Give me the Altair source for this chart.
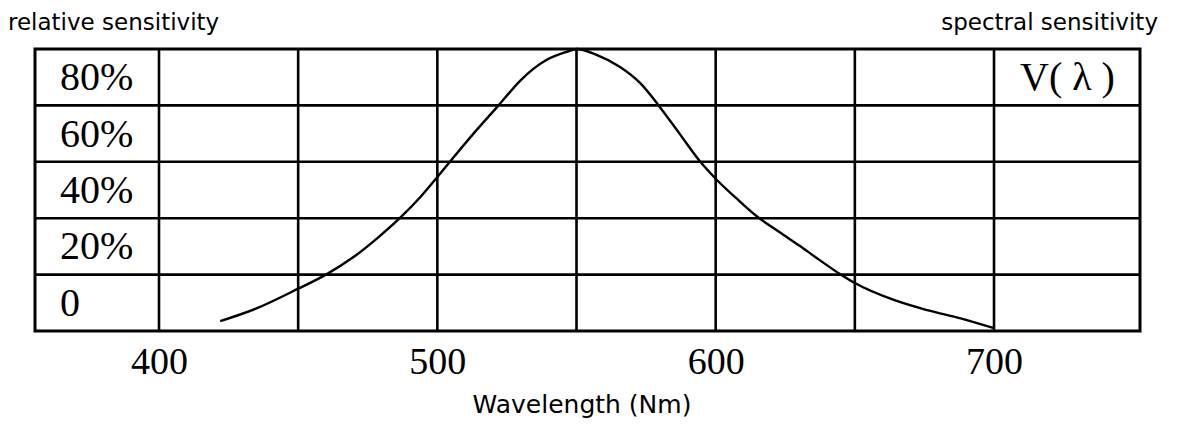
import altair as alt
import pandas as pd

# Curve (wavelength nm, relative sensitivity %)
wavelength = [422, 435, 450, 460, 470, 479, 486.5, 494, 500, 506, 513, 522,
              530, 539, 546.5, 550, 557, 565.5, 573, 579.5, 587, 594.5, 600,
              607.5, 615, 623, 630, 637, 644.5, 650, 664, 676, 688, 700]
sensitivity = [3.5, 8, 15, 20, 26.3, 33.4, 40, 47.6, 54.6, 61.8, 70, 80,
               89, 96, 99, 100, 98, 93.7, 87.8, 80, 70, 60, 54,
               47, 40.5, 35, 30.3, 25.4, 20.3, 17, 11, 7.4, 4.5, 1]

x_grid = [400, 450, 500, 550, 600, 650, 700]
y_grid = [20, 40, 60, 80]
x_ticks = [400, 500, 600, 700]
row_labels = ["0", "20%", "40%", "60%", "80%"]
row_mids = [10, 30, 50, 70, 90]

curve = pd.DataFrame({"wl": wavelength, "v": sensitivity})
vgrid = pd.DataFrame({"wl": x_grid})
hgrid = pd.DataFrame({"v": y_grid})
rows = pd.DataFrame({"label": row_labels, "v": row_mids})

xs = alt.Scale(domain=[355.45, 752.45], nice=False, zero=False)
ys = alt.Scale(domain=[0, 100], nice=False, zero=False)

SERIF = "Liberation Serif"
SANS = "DejaVu Sans"

xaxis = alt.Axis(values=x_ticks, ticks=False, domain=False, grid=False, title=None,
                 labelFont=SERIF, labelFontSize=38, labelColor="black", labelPadding=12)

vrules = alt.Chart(vgrid).mark_rule(color="black", strokeWidth=2.6).encode(
    x=alt.X("wl:Q", scale=xs, axis=xaxis),
    y=alt.value(0),
    y2=alt.value(282),
)

hrules = alt.Chart(hgrid).mark_rule(color="black", strokeWidth=2.6).encode(
    y=alt.Y("v:Q", scale=ys, axis=None),
    x=alt.value(0),
    x2=alt.value(1105),
)

line = alt.Chart(curve).mark_line(color="black", strokeWidth=2.4,
                                  interpolate="monotone").encode(
    x=alt.X("wl:Q", scale=xs, axis=xaxis),
    y=alt.Y("v:Q", scale=ys, axis=None),
)

labels = alt.Chart(rows).mark_text(font=SERIF, fontSize=40, align="left",
                                   baseline="middle", color="black", dy=1).encode(
    x=alt.value(25),
    y=alt.Y("v:Q", scale=ys, axis=None),
    text="label:N",
)

vlam = alt.Chart(pd.DataFrame({"t": ["V( λ )"], "v": [90]})).mark_text(
    font=SERIF, fontSize=40, align="left", baseline="middle", color="black", dy=1
).encode(x=alt.value(985), y=alt.Y("v:Q", scale=ys, axis=None), text="t:N")

t_left = alt.Chart(pd.DataFrame({"t": ["relative sensitivity"]})).mark_text(
    font=SANS, fontSize=23, align="left", baseline="alphabetic", color="black"
).encode(x=alt.value(-27), y=alt.value(-19), text="t:N")

t_right = alt.Chart(pd.DataFrame({"t": ["spectral sensitivity"]})).mark_text(
    font=SANS, fontSize=23, align="right", baseline="alphabetic", color="black"
).encode(x=alt.value(1123), y=alt.value(-19), text="t:N")

t_bottom = alt.Chart(pd.DataFrame({"t": ["Wavelength (Nm)"]})).mark_text(
    font=SANS, fontSize=25, align="center", baseline="alphabetic", color="black"
).encode(x=alt.value(547), y=alt.value(364), text="t:N")

chart = alt.layer(vrules, hrules, line, labels, vlam, t_left, t_right, t_bottom).properties(
    width=1105, height=282,
    autosize=alt.AutoSizeParams(type="none"),
    padding={"left": 27, "top": 41, "right": 47, "bottom": 90},
    background="white",
).configure_view(stroke="black", strokeWidth=3)

chart.save("out.html", embed_options={"renderer": "svg", "actions": False})
